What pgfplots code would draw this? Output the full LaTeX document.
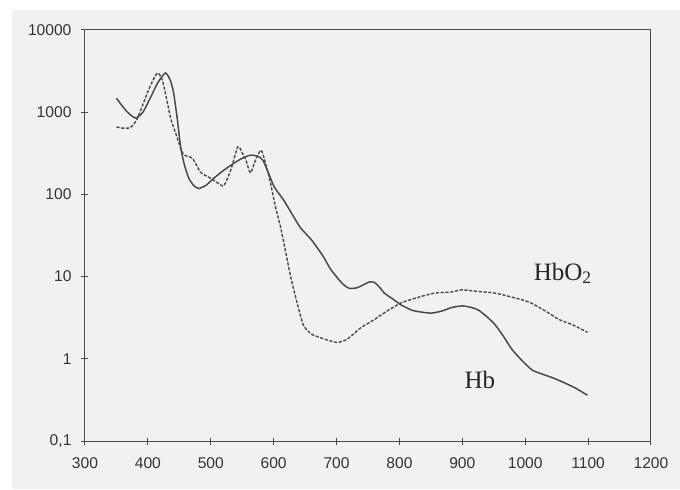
\documentclass[border=0pt]{standalone}
\usepackage{pgfplots}
\pgfplotsset{compat=1.18}
\usepackage{fontspec}
\setmainfont{Liberation Serif}
\setsansfont{Liberation Sans}

\definecolor{paper}{HTML}{F1F1F1}
\definecolor{ink}{HTML}{4A4A4A}

\begin{document}
\begin{tikzpicture}
  % scanned page background
  \fill[paper] (6pt,0pt) rectangle (340pt,239.5pt);
  \path (0pt,0pt) rectangle (340pt,244.5pt);
  \begin{axis}[
      name=ax,
      at={(42.5pt,24pt)}, anchor=south west,
      scale only axis, width=283pt, height=205.5pt,
      xmin=300, xmax=1200,
      ymode=log, ymin=0.1, ymax=10000,
      xtick={300,400,...,1200},
      xticklabels={300,400,500,600,700,800,900,1000,1100,1200},
      ytick={0.1,1,10,100,1000,10000},
      yticklabels={{0,1},1,10,100,1000,10000},
      minor tick style={draw=none},
      xtick pos=left, ytick pos=left,
      tick align=center, major tick length=3.5pt,
      axis line style={ink, line width=0.5pt},
      tick style={ink, line width=0.5pt},
      tick label style={font=\sffamily\fontsize{7.8}{9}\selectfont, text=black!80},
      /pgf/number format/assume math mode=true,
      xticklabel style={yshift=-3pt},
      yticklabel style={xshift=-1.5pt},
      clip=false,
    ]
    % Hb (solid)
    \addplot[ink, line width=0.75pt, smooth, tension=0.4] coordinates {
      (350,1480) (365,1050) (380,850) (392,1000) (404,1500) (416,2300)
      (428,3000) (436,2400) (441,1700) (447,800) (452,380) (458,230)
      (465,158) (473,128) (481,118) (493,130) (505,158) (520,195)
      (537,240) (550,275) (563,300) (575,290) (583,260) (592,180)
      (601,123) (616,85) (632,53) (643,39) (660,28) (672,21) (680,17)
      (690,12.5) (702,9.5) (711,8) (720,7.2) (732,7.3) (742,7.9)
      (752,8.6) (760,8.5) (768,7.5) (776,6.3) (790,5.3) (803,4.5)
      (820,3.9) (835,3.7) (851,3.6) (867,3.8) (883,4.2) (900,4.4)
      (915,4.2) (926,3.9) (940,3.2) (952,2.6) (965,1.9) (979,1.3)
      (995,0.95) (1011,0.73) (1025,0.66) (1043,0.59) (1060,0.52)
      (1080,0.44) (1099,0.36)
    };
    % HbO2 (dashed)
    \addplot[ink, line width=0.7pt, smooth, tension=0.4,
             dash pattern=on 1.6pt off 0.8pt] coordinates {
      (350,660) (360,640) (372,650) (382,800) (393,1300) (404,2100)
      (415,3000) (423,2450) (431,1300) (437,800) (444,560) (455,320)
      (463,290) (471,275) (484,185) (495,165) (505,148) (513,135)
      (521,128) (532,200) (543,380) (550,320) (556,260) (563,183)
      (571,260) (580,345) (587,240) (595,137) (603,70) (611,40)
      (619,20) (627,10) (635,5.6) (642,3.5) (648,2.5) (660,2.0)
      (675,1.8) (690,1.65) (702,1.58) (715,1.7) (727,2.0) (739,2.4)
      (760,3.0) (780,3.8) (803,4.8) (830,5.6) (856,6.3) (883,6.5)
      (899,6.9) (925,6.6) (952,6.3) (980,5.6) (1006,4.9) (1030,3.9)
      (1054,3.0) (1075,2.6) (1099,2.1)
    };
    \node[font=\fontsize{12.5}{14}\selectfont, text=black!85]
      at (axis cs:1060,11) {HbO\textsubscript{2}};
    \node[font=\fontsize{12.5}{14}\selectfont, text=black!85]
      at (axis cs:928,0.55) {Hb};
  \end{axis}
\end{tikzpicture}
\end{document}
